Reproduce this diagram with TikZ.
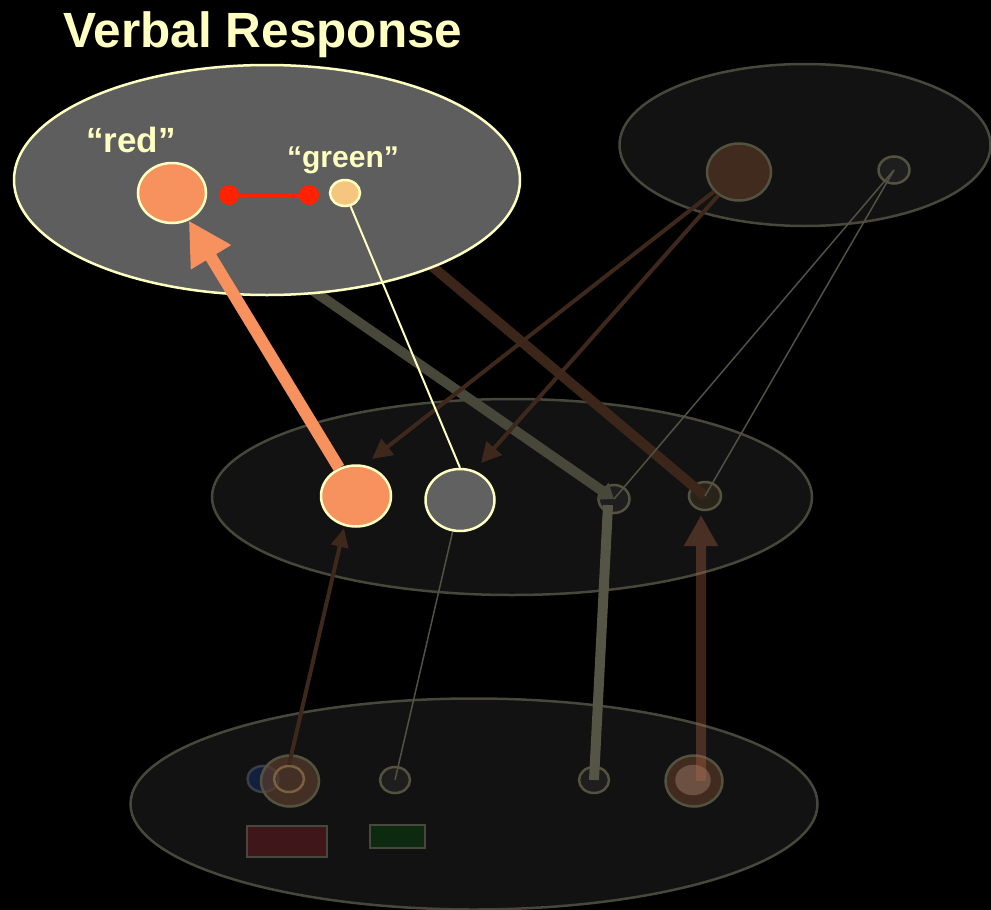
\documentclass[tikz,border=0pt]{standalone}
\usepackage{fontspec}
\setmainfont{Liberation Sans}
\usetikzlibrary{shapes.geometric,arrows.meta,calc}
\pgfdeclarelayer{back}
\pgfdeclarelayer{mid}
\pgfsetlayers{back,mid,main}
\definecolor{cream}{HTML}{FFFFC2}
\definecolor{salmon}{HTML}{F7915E}
\definecolor{vgray}{HTML}{5E5E5E}
\definecolor{midgray}{HTML}{616161}
\definecolor{paleor}{HTML}{F6C681}
\definecolor{dotred}{HTML}{FF2200}
\definecolor{dimfill}{HTML}{121212}
\definecolor{dimline}{HTML}{47473B}
\definecolor{circline}{HTML}{52523F}
\definecolor{brownf}{HTML}{412B1F}
\definecolor{brownt}{HTML}{5A3C2D}
\definecolor{smallf}{HTML}{1E1E1E}
\definecolor{m4fill}{HTML}{2A2319}
\definecolor{ringc}{HTML}{7A6040}
\definecolor{innerb}{HTML}{6C5042}
\definecolor{bluef}{HTML}{11213D}
\definecolor{bluel}{HTML}{3A3D4A}
\definecolor{rectred}{HTML}{3F1619}
\definecolor{rectgreen}{HTML}{0D2A10}
\definecolor{oliveC}{HTML}{48483A}
\definecolor{oliveI}{HTML}{555545}
\definecolor{brownD}{HTML}{3C2619}
\definecolor{brownE}{HTML}{3E281C}
\definecolor{brownJ}{HTML}{B86A48}
\definecolor{thinolive}{HTML}{525243}
\begin{document}
\begin{tikzpicture}[x=1pt,y=-1pt,
  dimoval/.style={ellipse,inner sep=0pt,draw=dimline,fill=dimfill,line width=2.5pt},
  blob/.style={ellipse,inner sep=0pt,line width=2.5pt},
  dimrect/.style={rectangle,inner sep=0pt,draw=dimline,line width=2.5pt},
  reddot/.style={circle,inner sep=0pt,minimum size=20pt,fill=dotred},
  lbl/.style={text=cream,inner sep=0pt,anchor=base},
  thinln/.style={draw=thinolive,line width=1.5pt},
  brownarrow/.style={draw=brownE,line width=4pt}
]
\useasboundingbox (0,0) rectangle (991,910);
\begin{pgfonlayer}{back}
\fill[black] (0,0) rectangle (991,910);
\node[dimoval,minimum width=371pt,minimum height=162pt] (E2) at (805,145) {};
\node[dimoval,minimum width=600pt,minimum height=196pt] (E3) at (512,497) {};
\node[dimoval,minimum width=687pt,minimum height=211pt] (E4) at (474,804) {};
\node[dimrect,fill=rectred,minimum width=80pt,minimum height=31pt] (rr) at (287,841.5) {};
\node[dimrect,fill=rectgreen,minimum width=55pt,minimum height=23pt] (gr) at (397.5,836.5) {};
\node[blob,fill=bluef,draw=bluel,minimum width=31pt,minimum height=26pt] (bb) at (263,779) {};
\node[blob,fill=brownt,draw=circline,fill opacity=0.7,minimum width=58pt,minimum height=51pt] (b1) at (290,781) {};
\node[blob,draw=ringc,minimum width=30pt,minimum height=26pt] (b1r) at (289,779) {};
\node[blob,fill=smallf,draw=circline,minimum width=30pt,minimum height=26pt] (b2) at (395,780) {};
\node[blob,fill=smallf,draw=circline,minimum width=30pt,minimum height=26pt] (b3) at (594,780) {};
\node[blob,fill=brownf,draw=circline,minimum width=57pt,minimum height=51pt] (b4) at (694,781) {};
\node[blob,fill=innerb,draw=innerb,minimum width=33pt,minimum height=28pt] (b4i) at (693,780) {};
\node[blob,fill=smallf,draw=circline,minimum width=31pt,minimum height=28pt] (m3) at (614,499) {};
\node[blob,fill=m4fill,draw=circline,minimum width=32pt,minimum height=28pt] (m4) at (705,496) {};
\node[blob,fill=brownf,draw=circline,minimum width=64pt,minimum height=57pt] (t1) at (739,172) {};
\node[blob,fill=smallf,draw=circline,minimum width=31pt,minimum height=27pt] (t2) at (894,170) {};
\end{pgfonlayer}
% main layer nodes
\node[blob,fill=vgray,draw=cream,minimum width=506pt,minimum height=230pt] (E1) at (267,180) {};
\node[blob,fill=salmon,draw=cream,minimum width=68pt,minimum height=60pt] (r1) at (172,193) {};
\node[reddot] (d1) at (229,195) {};
\node[reddot] (d2) at (309,195) {};
\draw[dotred,line width=3pt] (d1) -- (d2);
\node[blob,fill=paleor,draw=cream,minimum width=30pt,minimum height=26pt] (g) at (345,193) {};
\node[blob,fill=salmon,draw=cream,minimum width=70pt,minimum height=61pt] (m1) at (356,496) {};
\node[blob,fill=midgray,draw=cream,minimum width=69pt,minimum height=62pt] (m2) at (460,500) {};
\node[lbl,font=\bfseries\fontsize{49.5}{56}\selectfont] (title) at (263,47) {Verbal Response};
\node[lbl,font=\bfseries\fontsize{35}{40}\selectfont] (lred) at (131,152) {“red”};
\node[lbl,font=\bfseries\fontsize{30}{36}\selectfont] (lgreen) at (343,167) {“green”};
% free ends
\coordinate (e1tip) at (372,459);
\coordinate (e2tip) at (481,463);
\coordinate (gtip) at (344,528);
\coordinate (itop) at (608,505);
\coordinate (jtip) at (701,515);
\begin{pgfonlayer}{mid}
\draw[oliveC,line width=10pt,-{Triangle[length=14pt,width=20pt]}] (r1.center) -- (m3.center);
\draw[brownD,line width=10pt] (g.center) -- (m4.center);
\draw[brownarrow,-{Triangle[length=20pt,width=20pt]}] (t1) -- (e1tip);
\draw[brownarrow,-{Triangle[length=20pt,width=20pt]}] (t1) -- (e2tip);
\draw[thinln] (t2.center) -- (m3.center);
\draw[thinln] (t2.center) -- (m4.center);
\draw[brownarrow,-{Triangle[length=19pt,width=17pt]}] (b1r.north) -- (gtip);
\draw[thinln] (b2.center) -- (m2);
\draw[oliveI,line width=10pt] (b3.center) -- (itop);
\begin{scope}[transparency group,opacity=0.34]
\draw[brownJ,line width=10pt,-{Triangle[length=31pt,width=32pt]}] (b4.center -| jtip) -- (jtip);
\end{scope}
\end{pgfonlayer}
\draw[salmon,line width=12pt,-{Triangle[length=43pt,width=44pt]}] (m1) -- (r1);
\draw[cream,line width=2pt] (g) -- (m2.north);
\end{tikzpicture}
\end{document}
